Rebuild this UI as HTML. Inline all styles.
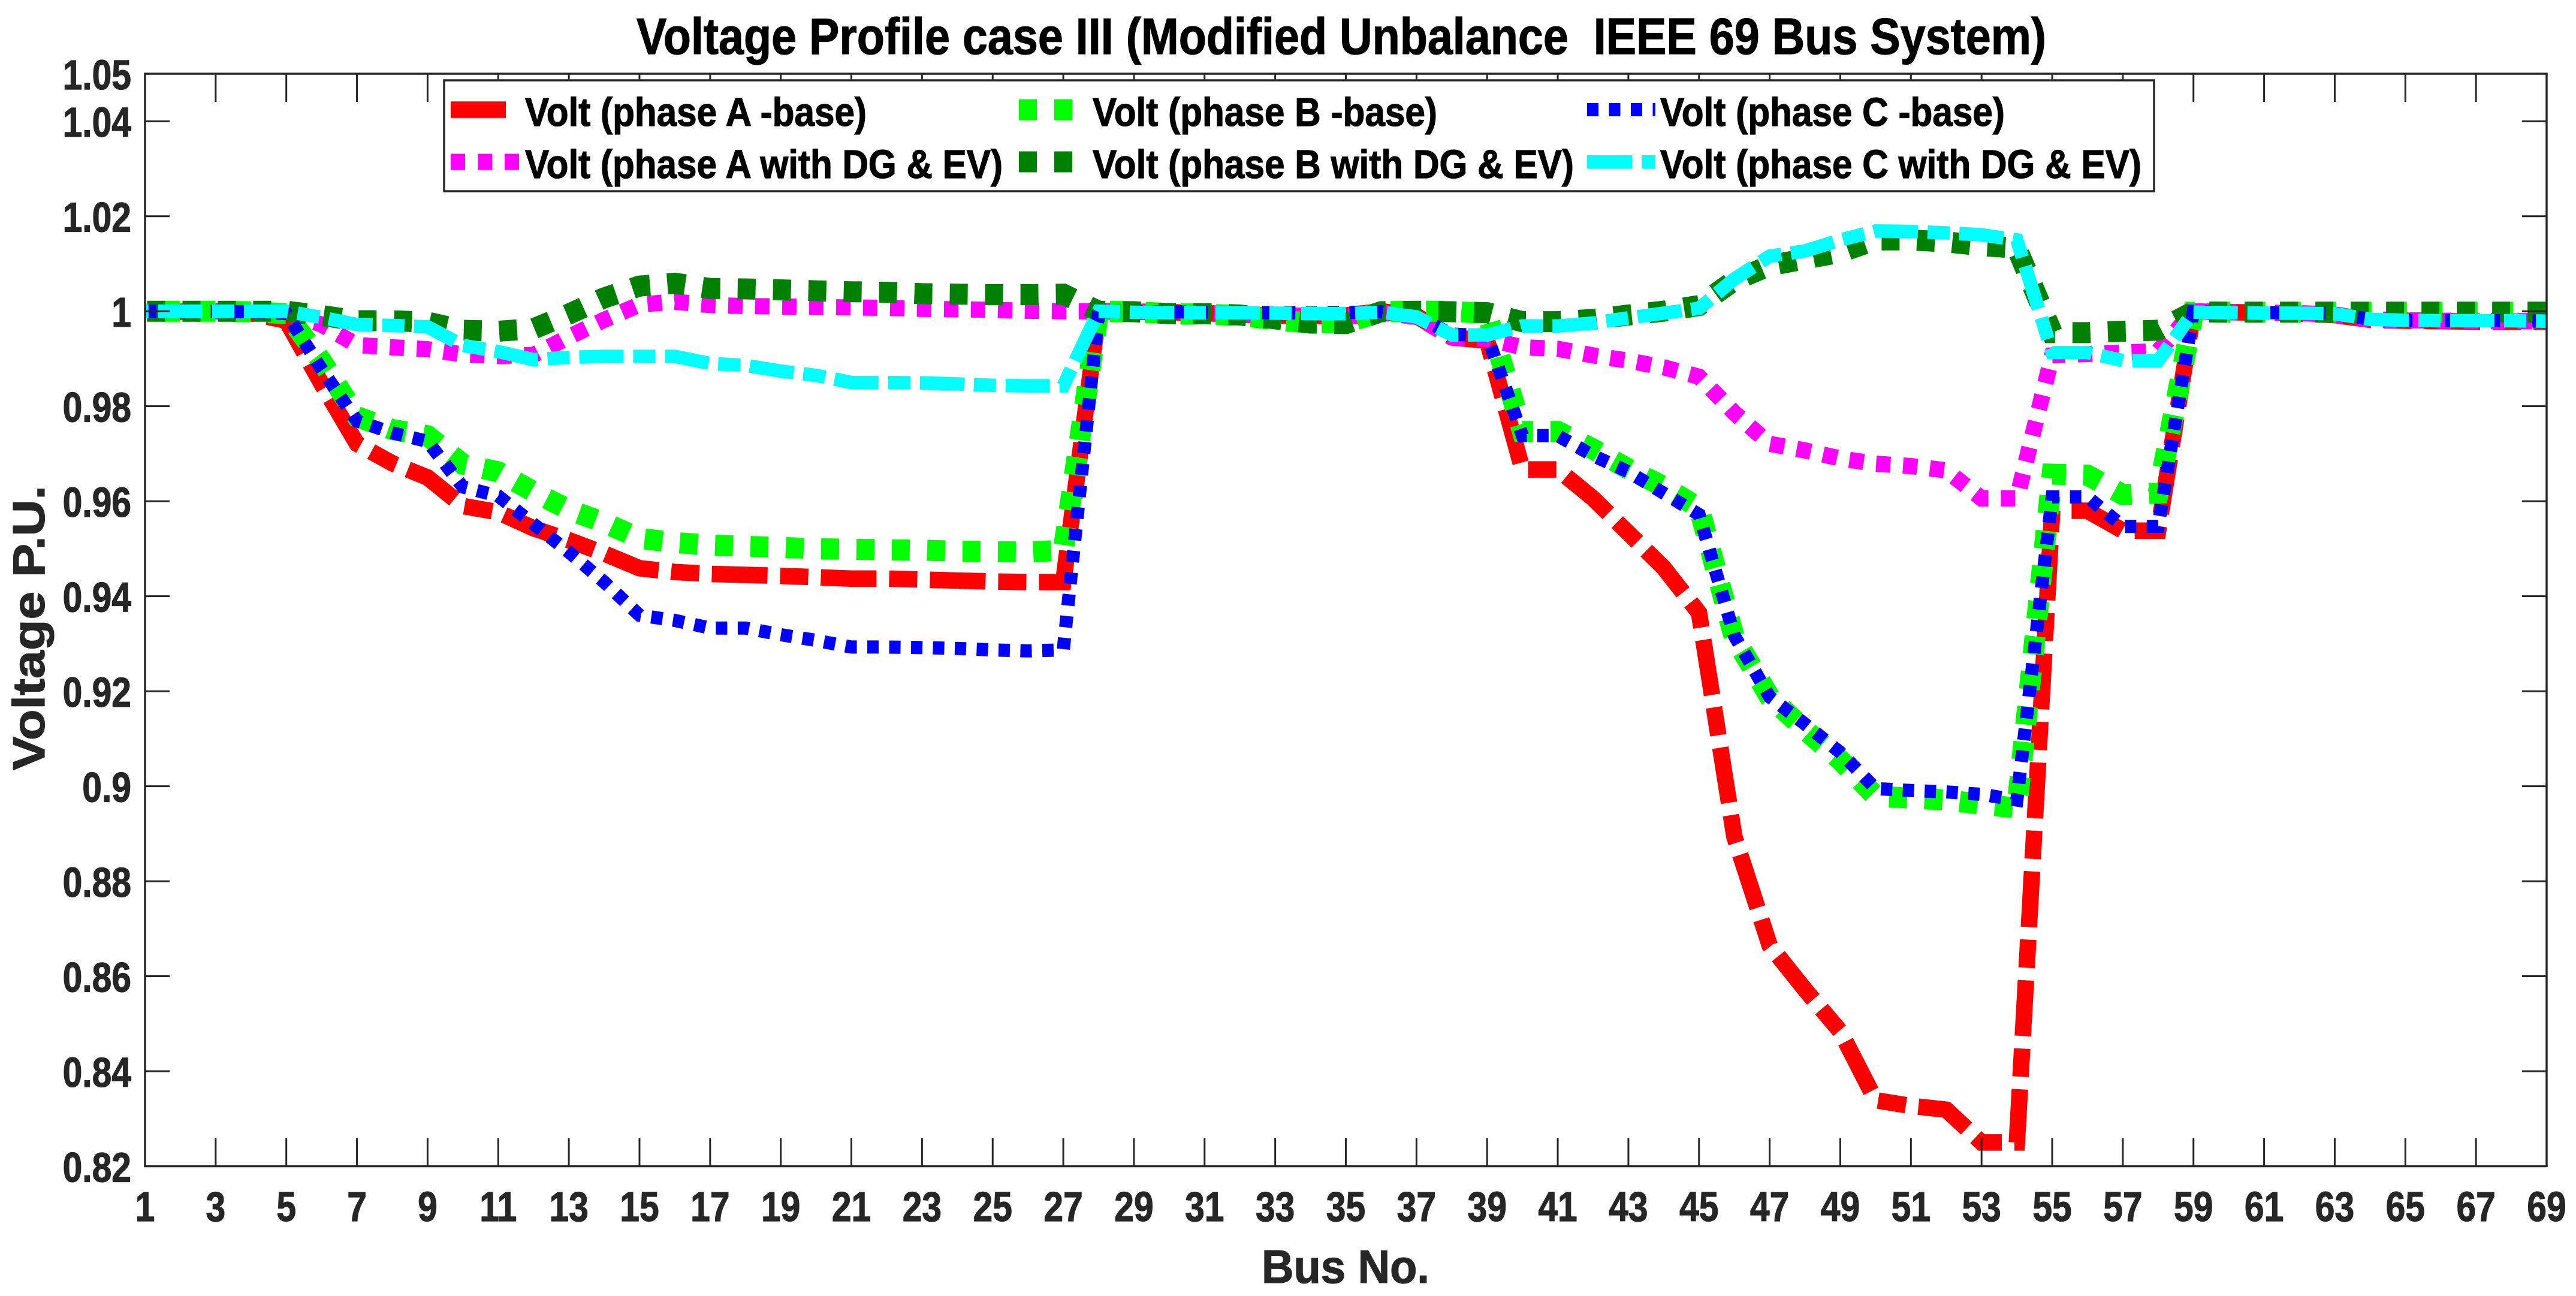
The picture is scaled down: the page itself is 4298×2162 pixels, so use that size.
<!DOCTYPE html>
<html lang="en">
<head>
<meta charset="utf-8">
<title>Voltage Profile case III</title>
<style>
html,body{margin:0;padding:0;background:#fff;}
svg{display:block;}
text{font-family:"Liberation Sans",Arial,sans-serif;font-weight:bold;white-space:pre;stroke-width:1.2px;}
</style>
</head>
<body>
<svg id="chart" xmlns="http://www.w3.org/2000/svg" width="4298" height="2162" viewBox="0 0 4298 2162">
  <rect x="0" y="0" width="4298" height="2162" fill="#ffffff"/>
  <text x="1062" y="90" font-size="85" fill="#000" stroke="#000" textLength="2352" lengthAdjust="spacingAndGlyphs">Voltage Profile case III (Modified Unbalance  IEEE 69 Bus System)</text>
  <g id="series"></g>
  <g id="axes"></g>
  <text x="2105" y="2140" font-size="78" fill="#262626" stroke="#262626" textLength="280" lengthAdjust="spacingAndGlyphs">Bus No.</text>
  <text transform="translate(74 1285) rotate(-90)" font-size="75" fill="#262626" stroke="#262626" textLength="475" lengthAdjust="spacingAndGlyphs">Voltage P.U.</text>
  <g>
    <rect x="741" y="134" width="2853" height="185" fill="#fff" stroke="#262626" stroke-width="3.5"/>
    <g>
      <line x1="752" y1="183" x2="844" y2="183" stroke="#ff0000" stroke-width="27.5"/>
      <text x="876" y="210" font-size="67" fill="#000" stroke="#000" textLength="570" lengthAdjust="spacingAndGlyphs">Volt (phase A -base)</text>
    </g>
    <g>
      <line x1="1700" y1="183" x2="1790" y2="183" stroke="#00ff00" stroke-width="35" stroke-dasharray="30 29"/>
      <text x="1823" y="210" font-size="67" fill="#000" stroke="#000" textLength="575" lengthAdjust="spacingAndGlyphs">Volt (phase B -base)</text>
    </g>
    <g>
      <line x1="2648" y1="183" x2="2762" y2="183" stroke="#0000ff" stroke-width="22" stroke-dasharray="19 17.5"/>
      <text x="2770" y="210" font-size="67" fill="#000" stroke="#000" textLength="575" lengthAdjust="spacingAndGlyphs">Volt (phase C -base)</text>
    </g>
    <g>
      <line x1="752" y1="270" x2="867" y2="270" stroke="#ff00ff" stroke-width="27" stroke-dasharray="24 21"/>
      <text x="876" y="297" font-size="67" fill="#000" stroke="#000" textLength="797" lengthAdjust="spacingAndGlyphs">Volt (phase A with DG &amp; EV)</text>
    </g>
    <g>
      <line x1="1700" y1="270" x2="1790" y2="270" stroke="#008000" stroke-width="35" stroke-dasharray="30 29"/>
      <text x="1823" y="297" font-size="67" fill="#000" stroke="#000" textLength="803" lengthAdjust="spacingAndGlyphs">Volt (phase B with DG &amp; EV)</text>
    </g>
    <g>
      <line x1="2648" y1="270" x2="2762" y2="270" stroke="#00ffff" stroke-width="22" stroke-dasharray="75 16"/>
      <text x="2770" y="297" font-size="67" fill="#000" stroke="#000" textLength="803" lengthAdjust="spacingAndGlyphs">Volt (phase C with DG &amp; EV)</text>
    </g>
  </g>
</svg>
<script>
const buses = [1,2,3,4,5,6,7,8,9,10,11,12,13,14,15,16,17,18,19,20,21,22,23,24,25,26,27,28,29,30,31,32,33,34,35,36,37,38,39,40,41,42,43,44,45,46,47,48,49,50,51,52,53,54,55,56,57,58,59,60,61,62,63,64,65,66,67,68,69];
const phaseABase = [
1,.9999,.9998,.9996,.998,.9847,.9721,.968,.965,.959,
.9577,.9543,.9518,.949,.9459,.9451,.9447,.9445,.9443,.944,
.9437,.9437,.9435,.9433,.9431,.943,.943,1,.9999,.9998,
.9996,.9993,.9991,.999,.9991,1,.999,.9945,.9938,.9667,
.9667,.9606,.9533,.946,.9365,.8894,.8665,.8572,.8484,.8339,
.8327,.8319,.825,.825,.958,.958,.9538,.9538,1,.9998,
.9997,.9995,.9992,.9982,.998,.9979,.9978,.9978,.9978];
const phaseADgEv = [
1,1,1,.9999,.9997,.9972,.9929,.9924,.992,.9909,
.9906,.9908,.9946,.9982,1.0014,1.002,1.0013,1.0011,1.001,1.0009,
1.0008,1.0007,1.0005,1.0004,1.0003,1.0001,1,1,.9999,.9997,
.9996,.9994,.9992,.999,.9988,.9997,.9988,.9945,.9942,.9924,
.9921,.9907,.9896,.9882,.9862,.9786,.9721,.9707,.969,.9679,
.9674,.9665,.9606,.9606,.9907,.991,.9913,.9916,1,.9998,
.9997,.9996,.9993,.9983,.9981,.998,.998,.9979,.9979];
const phaseBBase = [
1,1,1,.9999,.9995,.9895,.9778,.9751,.9738,.9678,
.9662,.962,.9582,.9555,.9522,.9513,.9508,.9505,.9503,.95,
.9499,.9498,.9497,.9495,.9494,.9493,.9497,1,.9999,.9995,
.9994,.9991,.9982,.9975,.9976,.9999,1,1,.9995,.9747,
.9747,.971,.9668,.9631,.9586,.9313,.9188,.9119,.9055,.8979,
.8975,.8971,.8962,.8954,.9657,.9655,.9614,.9617,.9998,.9998,
.9998,.9998,.9998,.9998,.9998,.9998,.9998,.9998,.9998];
const phaseBDgEv = [
1,1,1,1,1,.9991,.998,.998,.9977,.996,
.9958,.9963,.9994,1.0028,1.0053,1.0059,1.0048,1.0047,1.0045,1.0043,
1.0041,1.004,1.0037,1.0036,1.0035,1.0035,1.0036,1,.9999,.9995,
.9995,.9992,.9984,.9975,.9974,.9999,1,.9999,.9997,.9978,
.9978,.9983,.9992,1,1.0012,1.0065,1.0096,1.011,1.0124,1.015,
1.015,1.0146,1.0138,1.0133,.9955,.9955,.9958,.996,.9999,.9998,
.9998,.9998,.9998,.9998,.9998,.9998,.9998,.9998,.9998];
const phaseCBase = [
1,1,1,.9999,.9995,.9878,.9769,.9744,.9726,.963,
.9611,.9552,.9493,.943,.936,.9349,.9333,.9333,.9319,.9307,
.9293,.9293,.9292,.929,.9287,.9285,.9287,1,.9999,.9999,
.9998,.9997,.9997,.9996,.9997,.9999,.9988,.9952,.9948,.9738,
.9738,.9696,.9662,.9617,.9572,.9317,.9188,.9131,.9071,.8995,
.8991,.8988,.8983,.8971,.9609,.9609,.9547,.9547,1,.9997,
.9997,.9997,.9996,.9983,.9981,.998,.998,.998,.9979];
const phaseCDgEv = [
1,1,1,1,1,.9987,.9972,.997,.9967,.9928,
.9915,.9898,.9903,.9905,.9905,.9905,.989,.9886,.9874,.9865,
.985,.985,.9849,.9847,.9844,.9843,.9843,1,.9998,.9997,
.9997,.9997,.9996,.9995,.9995,.9998,.9988,.995,.995,.9969,
.9969,.9975,.9986,.9996,1.0006,1.0068,1.0116,1.0127,1.015,1.0169,
1.0168,1.0165,1.0161,1.015,.9913,.9913,.9896,.9896,.9998,.9997,
.9996,.9996,.9995,.9983,.9981,.998,.998,.998,.9979];
const xTickLabels = ['1','3','5','7','9','11','13','15','17','19','21','23','25','27','29','31','33','35','37','39','41','43','45','47','49','51','53','55','57','59','61','63','65','67','69'];
const yTickLabels = ['0.82','0.84','0.86','0.88','0.9','0.92','0.94','0.96','0.98','1','1.02','1.04','1.05'];

const SVGNS = 'http://www.w3.org/2000/svg';
const PLOT_LEFT = 242, PLOT_RIGHT = 4249, PLOT_TOP = 123, PLOT_BOTTOM = 1945.5;
const X_MIN = 1, X_MAX = 69, Y_MIN = 0.82, Y_MAX = 1.05;
function xScale(b){ return PLOT_LEFT + (b - X_MIN) / (X_MAX - X_MIN) * (PLOT_RIGHT - PLOT_LEFT); }
function yScale(v){ return PLOT_BOTTOM - (v - Y_MIN) / (Y_MAX - Y_MIN) * (PLOT_BOTTOM - PLOT_TOP); }

const seriesGroup = document.getElementById('series');
const axesGroup = document.getElementById('axes');

function lengthAtX(path, targetX){
  let lo = 0, hi = path.getTotalLength();
  for (let i = 0; i < 40; i++){
    const mid = (lo + hi) / 2;
    if (path.getPointAtLength(mid).x < targetX) lo = mid; else hi = mid;
  }
  return lo;
}
function drawSeries(name, values, color, width, dash, dashStartBus){
  const p = document.createElementNS(SVGNS, 'path');
  
  
  p.setAttribute('d', values.map(function(v, i){ return (i ? 'L' : 'M') + xScale(buses[i]).toFixed(1) + ' ' + yScale(v).toFixed(1); }).join(' '));
  p.setAttribute('fill', 'none');
  p.setAttribute('stroke', color);
  p.setAttribute('stroke-width', width);
  p.setAttribute('stroke-linejoin', 'miter');
  p.setAttribute('stroke-miterlimit', '2');
  p.setAttribute('stroke-dasharray', dash);
  seriesGroup.appendChild(p);
  p.setAttribute('stroke-dashoffset', (-lengthAtX(p, xScale(dashStartBus))).toFixed(1));
}
drawSeries('phase-a-base-line', phaseABase, '#ff0000', 27.5, '93 21 47 21', 53.93);
drawSeries('phase-a-dg-ev-line', phaseADgEv, '#ff00ff', 27, '24 21', 16.75);
drawSeries('phase-b-base-line', phaseBBase, '#00ff00', 35, '30 29', 17.14);
drawSeries('phase-b-dg-ev-line', phaseBDgEv, '#008000', 35, '30 29', 16.78);
drawSeries('phase-c-base-line', phaseCBase, '#0000ff', 22, '19 17.5', 21.45);
drawSeries('phase-c-dg-ev-line', phaseCDgEv, '#00ffff', 22.5, '74 16 37 16', 22.94);

function axisLine(name, x1, y1, x2, y2, w){
  const l = document.createElementNS(SVGNS, 'line');
  
  
  l.setAttribute('x1', x1);
  l.setAttribute('y1', y1);
  l.setAttribute('x2', x2);
  l.setAttribute('y2', y2);
  l.setAttribute('stroke', '#262626');
  l.setAttribute('stroke-width', w);
  axesGroup.appendChild(l);
}
function tickText(name, str, x, y, anchor){
  const t = document.createElementNS(SVGNS, 'text');
  
  
  t.setAttribute('transform', 'translate(' + x + ' ' + y + ') scale(0.84 1)');
  t.setAttribute('text-anchor', anchor);
  t.setAttribute('font-size', '70');
  t.setAttribute('fill', '#262626');
  t.setAttribute('stroke', '#262626');
  t.textContent = str;
  axesGroup.appendChild(t);
}

axisLine('plot-border-top', PLOT_LEFT - 1.75, PLOT_TOP, PLOT_RIGHT + 1.75, PLOT_TOP, 3.5);
axisLine('plot-border-bottom', PLOT_LEFT - 1.75, PLOT_BOTTOM, PLOT_RIGHT + 1.75, PLOT_BOTTOM, 3.5);
axisLine('plot-border-left', PLOT_LEFT, PLOT_TOP, PLOT_LEFT, PLOT_BOTTOM, 3.5);
axisLine('plot-border-right', PLOT_RIGHT, PLOT_TOP, PLOT_RIGHT, PLOT_BOTTOM, 3.5);

xTickLabels.forEach(function(lab){
  const x = xScale(Number(lab));
  axisLine('x-tick-bottom', x, PLOT_BOTTOM, x, PLOT_BOTTOM - 47, 3);
  axisLine('x-tick-top', x, PLOT_TOP, x, PLOT_TOP + 47, 3);
  tickText('x-tick-label', lab, x, 2037, 'middle');
});
yTickLabels.forEach(function(lab){
  const y = yScale(Number(lab));
  axisLine('y-tick-left', PLOT_LEFT, y, PLOT_LEFT + 41, y, 3);
  axisLine('y-tick-right', PLOT_RIGHT, y, PLOT_RIGHT - 41, y, 3);
  tickText('y-tick-label', lab, 219, y + 26, 'end');
});
</script>
</body>
</html>
